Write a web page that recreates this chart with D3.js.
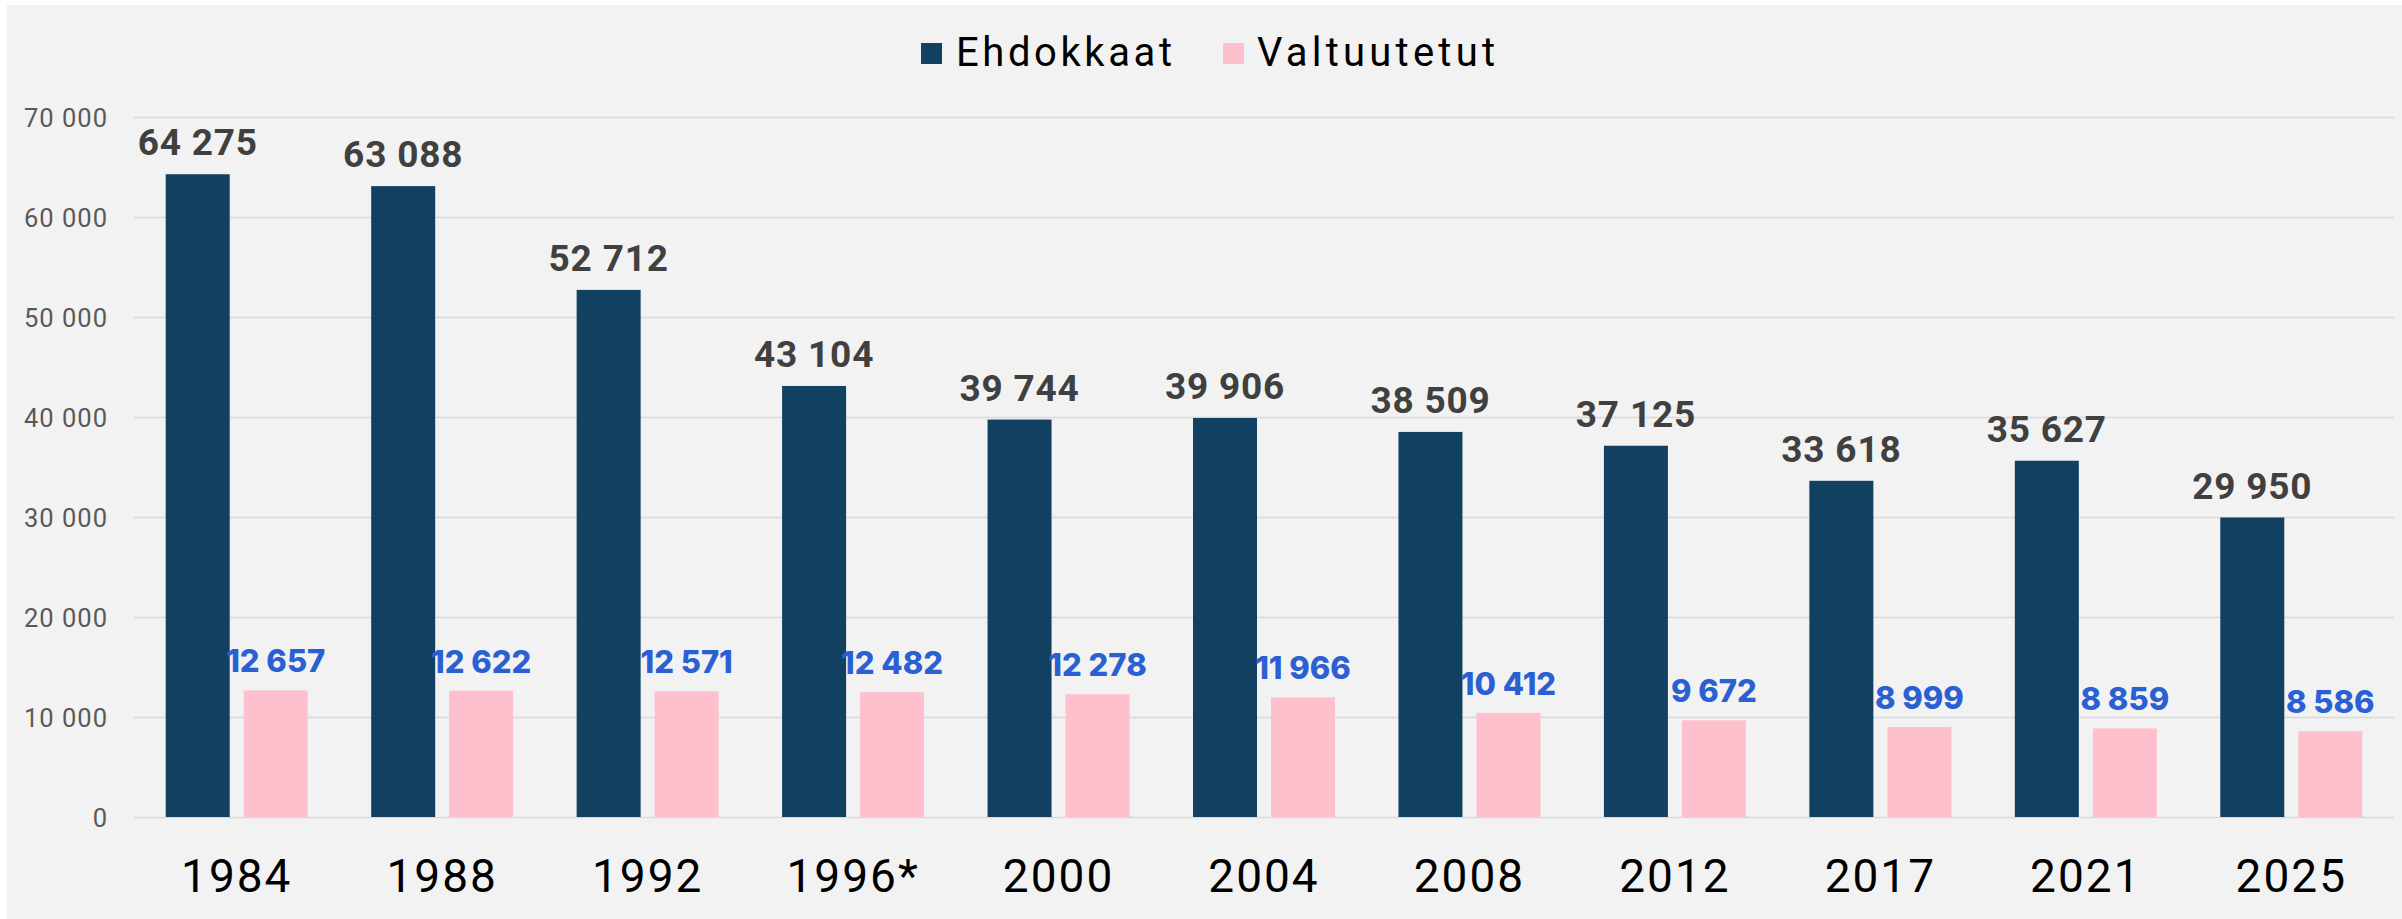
<!DOCTYPE html>
<html>
<head>
<meta charset="utf-8">
<script src="https://cdn.jsdelivr.net/npm/d3@7"></script>
<style>
  html, body { margin: 0; padding: 0; background: #ffffff; }
  svg { display: block; }
</style>
</head>
<body>
<svg id="chart" width="2402" height="919"></svg>
<script>
const years = ["1984", "1988", "1992", "1996*", "2000", "2004", "2008", "2012", "2017", "2021", "2025"];
const seriesNames = ["Ehdokkaat", "Valtuutetut"];
const ehdokkaat = [64275, 63088, 52712, 43104, 39744, 39906, 38509, 37125, 33618, 35627, 29950];
const valtuutetut = [12657, 12622, 12571, 12482, 12278, 11966, 10412, 9672, 8999, 8859, 8586];
const yTicks = [0, 10000, 20000, 30000, 40000, 50000, 60000, 70000];

const colors = { "Ehdokkaat": "#114061", "Valtuutetut": "#ffc0cd" };
const labelColors = { "Ehdokkaat": "#404040", "Valtuutetut": "#2a60d2" };

const W = 2402, H = 919;
const svg = d3.select("#chart");

// background panel
svg.append("rect").attr("x", 7).attr("y", 5).attr("width", W - 7).attr("height", H - 5).attr("fill", "#f2f2f2");

const plotLeft = 134, plotRight = 2394;
const x0 = d3.scaleBand().domain(years).range([plotLeft, plotRight]).padding(0);
const groupW = 142;
const x1 = d3.scaleBand().domain(seriesNames).range([0, groupW]).paddingInner(0.1795).paddingOuter(0);
const y = d3.scaleLinear().domain([0, 70000]).range([817, 117]);

const fmt = v => d3.format(",")(v).replace(/,/g, " ");

// gridlines
const yAxis = d3.axisLeft(y).tickValues(yTicks).tickSize(-(plotRight - plotLeft)).tickFormat(fmt).tickPadding(26);
const gy = svg.append("g").attr("transform", `translate(${plotLeft},0)`).call(yAxis);
gy.select(".domain").remove();
gy.selectAll(".tick line").attr("stroke", "#d9d9d9").attr("stroke-width", 1.5);
gy.selectAll(".tick text")
  .attr("font-family", "Roboto, 'Open Sans', sans-serif")
  .attr("font-size", 25.5)
  .attr("fill", "#595959")
  .attr("letter-spacing", 1)
  .attr("dy", "0.36em");

const data = years.map((yr, i) => ({ year: yr, values: [
  { key: "Ehdokkaat", value: ehdokkaat[i] },
  { key: "Valtuutetut", value: valtuutetut[i] }
]}));

const groups = svg.append("g").selectAll("g").data(data).join("g")
  .attr("transform", d => `translate(${x0(d.year) + (x0.bandwidth() - groupW) / 2},0)`);

groups.selectAll("rect").data(d => d.values).join("rect")
  .attr("x", d => x1(d.key))
  .attr("width", x1.bandwidth())
  .attr("y", d => y(d.value))
  .attr("height", d => y(0) - y(d.value))
  .attr("fill", d => colors[d.key]);

groups.selectAll("text.val").data(d => d.values).join("text")
  .attr("class", "val")
  .attr("x", d => x1(d.key) + x1.bandwidth() / 2)
  .attr("y", d => y(d.value) - (d.key === "Ehdokkaat" ? 19 : 18))
  .attr("text-anchor", "middle")
  .attr("font-family", d => d.key === "Ehdokkaat" ? "Roboto, sans-serif" : "Inter, 'Open Sans', sans-serif")
  .attr("font-weight", d => d.key === "Ehdokkaat" ? 700 : 800)
  .attr("font-size", d => d.key === "Ehdokkaat" ? 37 : 31)
  .attr("letter-spacing", d => d.key === "Ehdokkaat" ? 0.8 : 0)
  .attr("fill", d => labelColors[d.key])
  .text(d => fmt(d.value));

// x axis labels
const xAxis = d3.axisBottom(x0).tickSize(0).tickPadding(0);
const gx = svg.append("g").attr("transform", `translate(0,${y(0)})`).call(xAxis);
gx.select(".domain").remove();
gx.selectAll(".tick text")
  .attr("font-family", "Roboto, sans-serif")
  .attr("font-size", 46)
  .attr("fill", "#000")
  .attr("letter-spacing", 2)
  .attr("dy", 0)
  .attr("y", 75);

// legend
const legendItems = [
  { key: "Ehdokkaat", sx: 921, tx: 956, tw: 216 },
  { key: "Valtuutetut", sx: 1223, tx: 1257, tw: 238 }
];
const lg = svg.append("g");
legendItems.forEach(it => {
  lg.append("rect").attr("x", it.sx).attr("y", 43).attr("width", 21).attr("height", 21).attr("fill", colors[it.key]);
  lg.append("text").attr("x", it.tx).attr("y", 66)
    .attr("font-family", "Roboto, sans-serif").attr("font-size", 40).attr("fill", "#000")
    .attr("textLength", it.tw).attr("lengthAdjust", "spacing")
    .text(it.key);
});
</script>
</body>
</html>
